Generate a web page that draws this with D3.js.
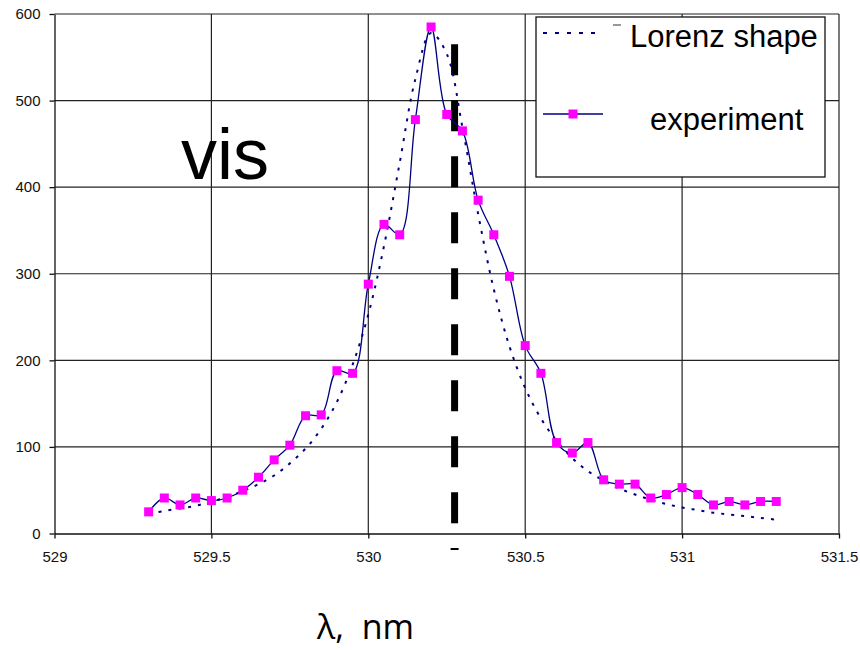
<!DOCTYPE html>
<html>
<title>Lorenz shape vs experiment</title>
<style>
  body {
    margin: 0px;
    background: white;
  }
  svg {
    display: block;
  }
  .tick text {
    font-family: "Liberation Sans", Arial, sans-serif;
    font-size: 15px;
    fill: #111;
  }
  .grid line {
    stroke: #222;
    stroke-width: 1.2;
  }
</style>
<script src="https://cdn.jsdelivr.net/npm/d3@7"></script>
<body>
<svg></svg>
<script>

// wavelength, nm
const wavelength = [529.30, 529.35, 529.40, 529.45, 529.50, 529.55, 529.60, 529.65, 529.70, 529.75,
                    529.80, 529.85, 529.90, 529.95, 530.00, 530.05, 530.10, 530.15, 530.20, 530.25,
                    530.30, 530.35, 530.40, 530.45, 530.50, 530.55, 530.60, 530.65, 530.70, 530.75,
                    530.80, 530.85, 530.90, 530.95, 531.00, 531.05, 531.10, 531.15, 531.20, 531.25,
                    531.30];
const experiment = [25, 41, 33, 41, 38, 41, 50, 65, 85, 102,
                    136, 137, 188, 185, 288, 357, 345, 478, 585, 484,
                    465, 385, 345, 297, 217, 185, 105, 93, 105, 62,
                    57, 57, 41, 45, 53, 45, 33, 37, 33, 37,
                    37];
const lorenz = [23, 26, 29, 32, 37, 42, 49, 57, 67, 81,
                98, 121, 152, 195, 253, 332, 428, 525, 578, 554,
                469, 369, 282, 216, 168, 133, 107, 87, 72, 61,
                52, 45, 39, 34, 30, 27, 24, 22, 20, 18,
                16];
const xTicks = [529, 529.5, 530, 530.5, 531, 531.5];
const yTicks = [0, 100, 200, 300, 400, 500, 600];
const markerLine = {x: 530.275, from: 11, to: 565};
const seriesNames = ["Lorenz shape", "experiment"];

const width = 860, height = 650;
const plotLeft = 54.5, plotRight = 839, plotTop = 14, plotBottom = 533.5;

const svg = d3.select("svg")
    .attr("width", width)
    .attr("height", height);

// scales
const x = d3.scaleLinear()
    .domain([529, 531.5])
    .range([plotLeft, plotRight]);

const y = d3.scaleLinear()
    .domain([0, 600])
    .range([plotBottom, plotTop]);

// grid
const grid = svg.append("g").attr("class", "grid");
grid.selectAll(".h")
    .data(yTicks.slice(1))
  .enter().append("line")
    .attr("x1", plotLeft).attr("x2", plotRight)
    .attr("y1", d => y(d)).attr("y2", d => y(d));
grid.selectAll(".v")
    .data(xTicks.slice(1))
  .enter().append("line")
    .attr("x1", d => x(d)).attr("x2", d => x(d))
    .attr("y1", plotTop).attr("y2", plotBottom);

// axes
svg.append("g")
    .attr("transform", "translate(" + plotLeft + ",0)")
    .call(d3.axisLeft(y).tickValues(yTicks).tickSize(5).tickSizeOuter(0).tickPadding(9));
svg.append("g")
    .attr("transform", "translate(0," + plotBottom + ")")
    .call(d3.axisBottom(x).tickValues(xTicks).tickSize(5).tickSizeOuter(0).tickPadding(13)
      .tickFormat(d3.format("")));
svg.selectAll(".domain, .tick line")
    .attr("stroke", "#111")
    .attr("stroke-width", 1.3);

// thick dashed marker
svg.append("line")
    .attr("x1", x(markerLine.x)).attr("x2", x(markerLine.x))
    .attr("y1", y(markerLine.to)).attr("y2", y(markerLine.from))
    .attr("stroke", "black")
    .attr("stroke-width", 7)
    .attr("stroke-dasharray", "31,25");
svg.append("line")
    .attr("x1", x(markerLine.x) - 4).attr("x2", x(markerLine.x) + 4)
    .attr("y1", plotBottom + 15.5).attr("y2", plotBottom + 15.5)
    .attr("stroke", "black")
    .attr("stroke-width", 2);

const pts = d3.range(wavelength.length);

const lorenzLine = d3.line()
    .curve(d3.curveCatmullRom.alpha(0.5))
    .x(i => x(wavelength[i]))
    .y(i => y(lorenz[i]));

const expLine = d3.line()
    .curve(d3.curveCatmullRom.alpha(0.5))
    .x(i => x(wavelength[i]))
    .y(i => y(experiment[i]));

svg.append("path")
    .datum(pts)
    .attr("d", lorenzLine)
    .attr("fill", "none")
    .attr("stroke", "#000080")
    .attr("stroke-width", 2)
    .attr("stroke-dasharray", "3,7");

svg.append("path")
    .datum(pts)
    .attr("d", expLine)
    .attr("fill", "none")
    .attr("stroke", "#000080")
    .attr("stroke-width", 1.3);

svg.append("g").selectAll("rect")
    .data(pts)
  .enter().append("rect")
    .attr("x", i => x(wavelength[i]) - 4.5)
    .attr("y", i => y(experiment[i]) - 4.5)
    .attr("width", 9)
    .attr("height", 9)
    .attr("fill", "#ff00ff");

// legend
const legend = svg.append("g");
legend.append("rect")
    .attr("x", 536).attr("y", 17)
    .attr("width", 289).attr("height", 160)
    .attr("fill", "white")
    .attr("stroke", "#111")
    .attr("stroke-width", 1.3);
legend.append("line")
    .attr("x1", 543).attr("x2", 603)
    .attr("y1", 33).attr("y2", 33)
    .attr("stroke", "#000080")
    .attr("stroke-width", 2)
    .attr("stroke-dasharray", "4,8");
legend.append("line")
    .attr("x1", 613).attr("x2", 621)
    .attr("y1", 25).attr("y2", 25)
    .attr("stroke", "#333")
    .attr("stroke-width", 1);
legend.append("line")
    .attr("x1", 543).attr("x2", 603)
    .attr("y1", 114).attr("y2", 114)
    .attr("stroke", "#000080")
    .attr("stroke-width", 1.3);
legend.append("rect")
    .attr("x", 568.5).attr("y", 109.5)
    .attr("width", 9).attr("height", 9)
    .attr("fill", "#ff00ff");
legend.selectAll("text")
    .data(seriesNames)
  .enter().append("text")
    .attr("x", (d, i) => i ? 650 : 630)
    .attr("y", (d, i) => i ? 130 : 47)
    .style("font-family", "'Liberation Sans', Arial, sans-serif")
    .style("font-size", "31px")
    .text(d => d);

svg.append("text")
    .attr("x", 181)
    .attr("y", 179)
    .style("font-family", "'Liberation Sans', Arial, sans-serif")
    .style("font-size", "72px")
    .text("vis");

svg.append("text")
    .attr("x", 317)
    .attr("y", 639)
    .style("font-family", "'Open Sans', sans-serif")
    .style("font-size", "34px")
    .style("white-space", "pre")
    .text("λ,  nm");
</script>
</body>
</html>
